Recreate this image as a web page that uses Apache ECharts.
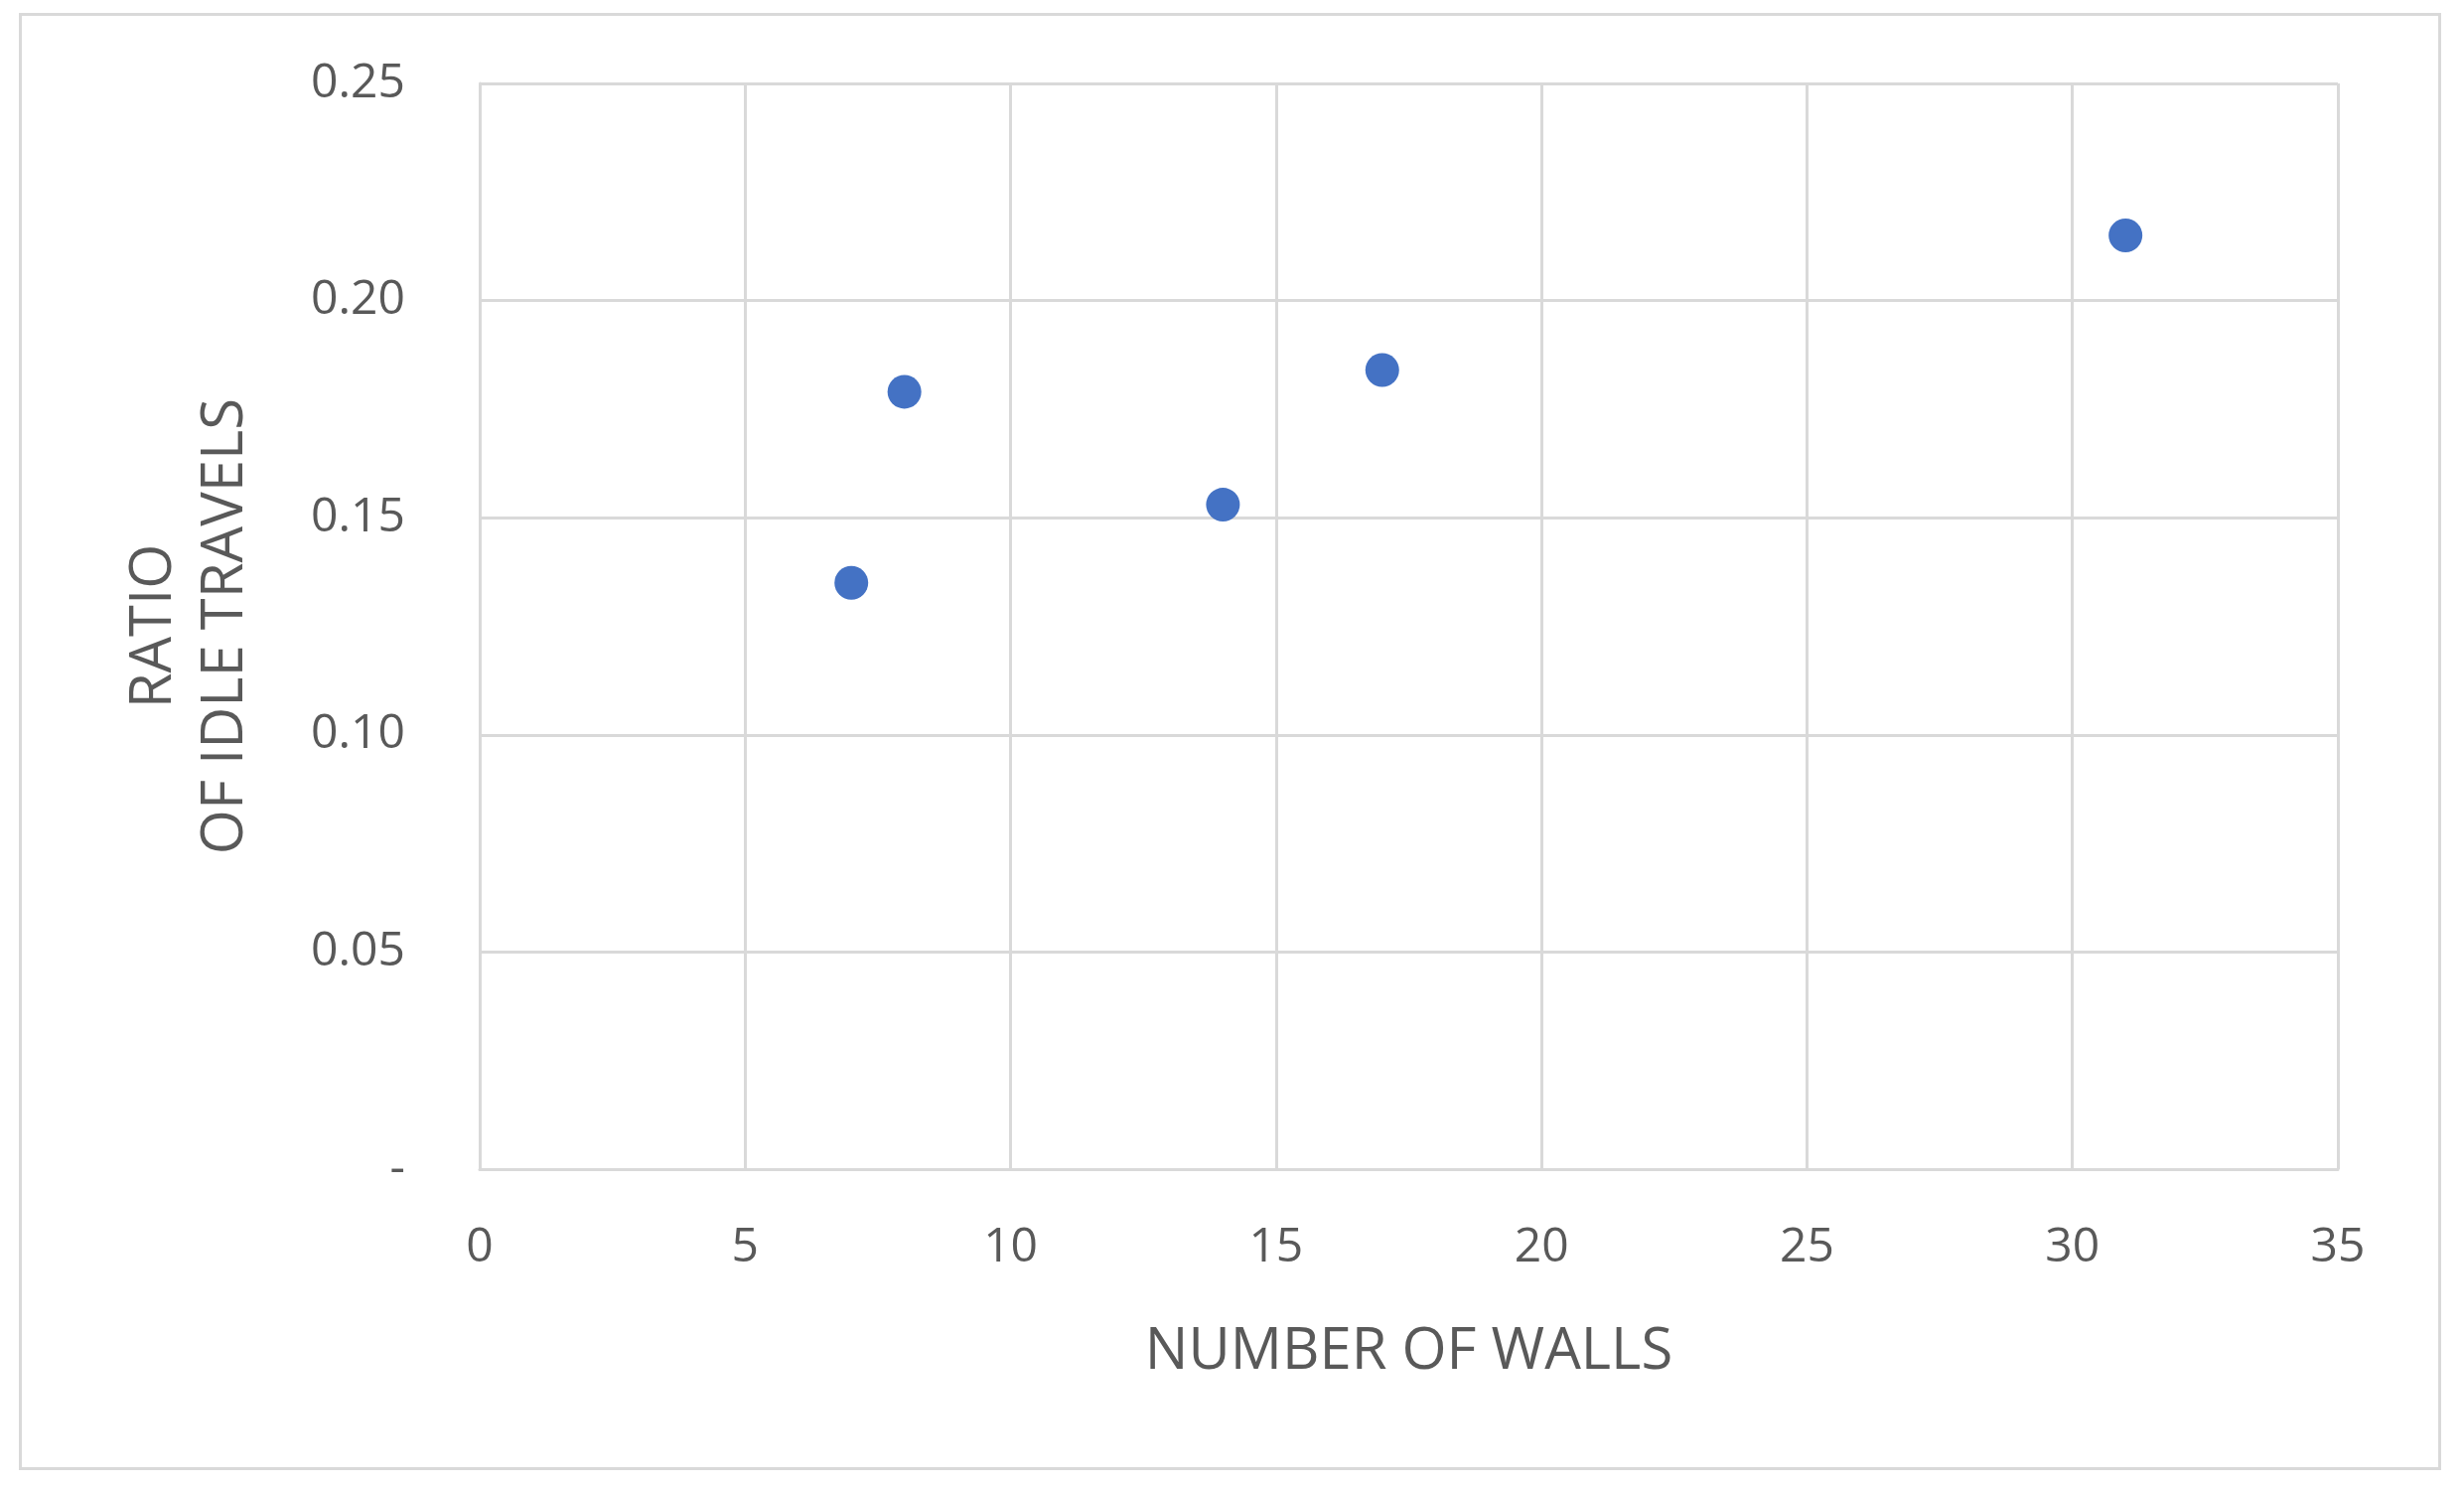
<!DOCTYPE html>
<html>
<head>
<meta charset="utf-8">
<script src="https://cdn.jsdelivr.net/npm/echarts@6/dist/echarts.min.js"></script>
<style>
html, body { margin: 0; padding: 0; background: #fff; }
#frame { position: absolute; left: 19px; top: 13px; width: 2439px; height: 1467px; border: 3px solid #d9d9d9; box-sizing: border-box; }
#main { position: absolute; left: 0; top: 0; width: 2481px; height: 1497px; }
</style>
</head>
<body>
<div id="frame"></div>
<div id="main"></div>
<script>
// walls vs ratio of idle travels
var walls = [7, 8, 14, 17, 31];
var ratios = [0.135, 0.179, 0.153, 0.184, 0.215];

var myChart = echarts.init(document.getElementById('main'));

var points = [];
for (var i = 0; i < walls.length; i++) {
    points.push([walls[i], ratios[i]]);
}

var option = {
    animation: false,
    grid: { left: 483, right: 127, top: 84, bottom: 320 },
    xAxis: {
        type: 'value',
        min: 0, max: 35, interval: 5,
        name: 'NUMBER OF WALLS',
        nameLocation: 'middle',
        nameGap: 155,
        nameTextStyle: { fontSize: 58, color: '#595959', fontFamily: 'Open Sans' },
        axisLine: { show: true, lineStyle: { color: '#d9d9d9', width: 3 } },
        axisTick: { show: false },
        axisLabel: { fontSize: 48, color: '#595959', margin: 55, fontFamily: 'Open Sans' },
        splitLine: { show: true, lineStyle: { color: '#d9d9d9', width: 3 } }
    },
    yAxis: {
        type: 'value',
        min: 0, max: 0.25, interval: 0.05,
        name: 'RATIO\nOF IDLE TRAVELS',
        nameLocation: 'middle',
        nameGap: 220,
        nameRotate: 90,
        nameTextStyle: { fontSize: 58, color: '#595959', fontFamily: 'Open Sans', lineHeight: 72 },
        axisLine: { show: true, lineStyle: { color: '#d9d9d9', width: 3 } },
        axisTick: { show: false },
        axisLabel: {
            fontSize: 48, color: '#595959', margin: 75, fontFamily: 'Open Sans',
            formatter: function (v) { return v === 0 ? '-' : v.toFixed(2); }
        },
        splitLine: { show: true, lineStyle: { color: '#d9d9d9', width: 3 } }
    },
    series: [{
        type: 'scatter',
        symbolSize: 34,
        itemStyle: { color: '#4472C4', opacity: 1 },
        data: points
    }]
};

myChart.setOption(option);
</script>
</body>
</html>
